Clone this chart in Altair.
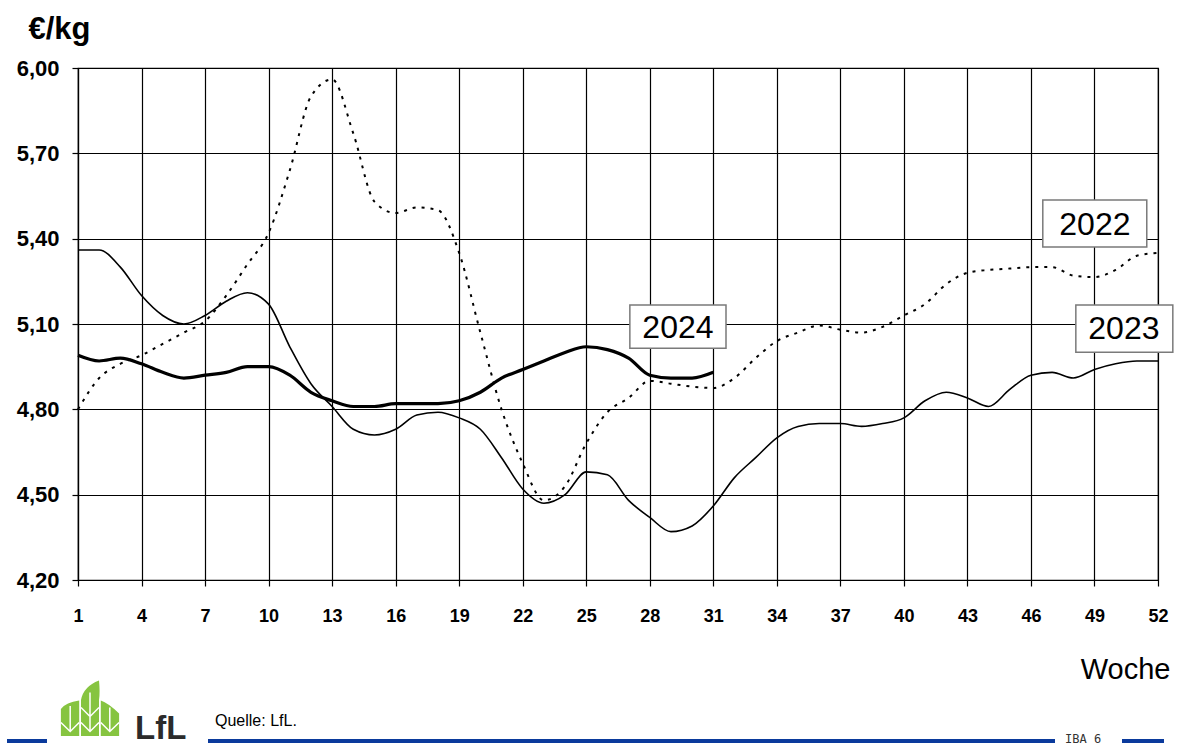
import altair as alt
import pandas as pd

# Weekly prices in EUR/kg
weeks = list(range(1, 53))
price_2022 = [4.80, 4.91, 4.96, 4.99, 5.03, 5.07, 5.11, 5.20, 5.31, 5.42,
              5.64, 5.90, 5.96, 5.77, 5.53, 5.49, 5.51, 5.50, 5.35, 5.07,
              4.80, 4.61, 4.48, 4.53, 4.68, 4.79, 4.84, 4.90, 4.89, 4.88,
              4.875, 4.91, 4.98, 5.04, 5.07, 5.095, 5.08, 5.07, 5.09, 5.13,
              5.17, 5.24, 5.28, 5.29, 5.295, 5.30, 5.30, 5.27, 5.265, 5.29,
              5.34, 5.35]
price_2023 = [5.36, 5.36, 5.30, 5.20, 5.13, 5.10, 5.13, 5.18, 5.21, 5.17,
              5.02, 4.89, 4.81, 4.73, 4.71, 4.73, 4.78, 4.79, 4.77, 4.73,
              4.63, 4.52, 4.47, 4.50, 4.58, 4.57, 4.48, 4.42, 4.37, 4.39,
              4.46, 4.56, 4.63, 4.70, 4.74, 4.75, 4.75, 4.74, 4.75, 4.77,
              4.83, 4.86, 4.84, 4.81, 4.87, 4.92, 4.93, 4.91, 4.94, 4.96,
              4.97, 4.97]
price_2024 = [4.99, 4.97, 4.98, 4.96, 4.93, 4.91, 4.92, 4.93, 4.95, 4.95,
              4.92, 4.86, 4.83, 4.81, 4.81, 4.82, 4.82, 4.82, 4.83, 4.86,
              4.91, 4.94, 4.97, 5.00, 5.02, 5.01, 4.98, 4.92, 4.91, 4.91,
              4.93]

tick_weeks = list(range(1, 53, 3))
tick_prices = [4.20, 4.50, 4.80, 5.10, 5.40, 5.70, 6.00]

# Year labels with their framing boxes (week / price coordinates)
label_text = ["2024", "2022", "2023"]
label_week = [29.33, 49.02, 50.39]
label_price = [5.086, 5.448, 5.082]
box_week_lo = [27.06, 46.56, 48.12]
box_week_hi = [31.60, 51.47, 52.70]
box_price_lo = [5.015, 5.371, 5.001]
box_price_hi = [5.167, 5.536, 5.167]

FONT = "Liberation Sans"

df22 = pd.DataFrame({"week": weeks, "price": price_2022})
df23 = pd.DataFrame({"week": weeks, "price": price_2023})
df24 = pd.DataFrame({"week": weeks[:len(price_2024)], "price": price_2024})
labels = pd.DataFrame({
    "text": label_text, "week": label_week, "price": label_price,
    "w0": box_week_lo, "w1": box_week_hi, "p0": box_price_lo, "p1": box_price_hi,
})

x_scale = alt.Scale(domain=[1, 52], nice=False, zero=False)
y_scale = alt.Scale(domain=[4.2, 6.0], nice=False, zero=False)

x_axis = alt.Axis(
    values=tick_weeks, grid=True, labelFlush=False,
    labelFont=FONT, labelFontWeight="bold", labelFontSize=18, labelColor="black",
    tickSize=6, labelPadding=21,
    title="Woche", titleFont=FONT, titleFontWeight="normal", titleFontSize=29,
    titleColor="black", titleAlign="right", titleX=1092, titleY=98,
    titleBaseline="alphabetic",
)
y_axis = alt.Axis(
    values=tick_prices, grid=True, labelFlush=False,
    labelExpr="replace(format(datum.value, '.2f'), '.', ',')",
    labelFont=FONT, labelFontWeight="bold", labelFontSize=22, labelColor="black",
    tickSize=6, labelPadding=13,
    title="€/kg", titleFont=FONT, titleFontWeight="bold", titleFontSize=31,
    titleColor="black", titleAngle=0, titleAlign="left", titleX=-50, titleY=-30,
    titleBaseline="alphabetic",
)

X = alt.X("week:Q", scale=x_scale, axis=x_axis)
Y = alt.Y("price:Q", scale=y_scale, axis=y_axis)

line22 = alt.Chart(df22).mark_line(
    color="black", strokeWidth=2, strokeDash=[3, 6], interpolate="monotone"
).encode(x=X, y=Y)
line23 = alt.Chart(df23).mark_line(
    color="black", strokeWidth=1.6, interpolate="monotone"
).encode(x="week:Q", y="price:Q")
line24 = alt.Chart(df24).mark_line(
    color="black", strokeWidth=3.2, interpolate="monotone"
).encode(x="week:Q", y="price:Q")

boxes = alt.Chart(labels).mark_rect(
    fill="white", stroke="#7a7a7a", strokeWidth=1.5
).encode(x="w0:Q", x2="w1", y="p0:Q", y2="p1")
box_text = alt.Chart(labels).mark_text(
    font=FONT, fontSize=32, color="black", align="center", baseline="middle"
).encode(x="week:Q", y="price:Q", text="text:N")

# Footer: blue rule segments, logo and source note
one = pd.DataFrame({"k": [0]})
BLUE = "#0a3a9c"
footer_rules = [
    alt.Chart(one).mark_rule(color=BLUE, strokeWidth=4).encode(
        x=alt.value(x0), x2=alt.value(x1), y=alt.value(673))
    for x0, x1 in [(-71, -31), (130, 977), (1044, 1086)]
]
leaf_path = ("M-0.97,0.9 L-0.97,0.0 Q-0.8,-0.22 -0.36,-0.28 L-0.36,0.9 Z "
             "M-0.3,0.9 L-0.3,-0.3 Q-0.22,-0.75 0.3,-0.95 Q0.34,-0.55 0.3,-0.3 L0.3,0.9 Z "
             "M0.36,0.9 L0.36,-0.28 Q0.6,-0.2 0.97,0.15 L0.97,0.9 Z")
vein_path = ("M-0.97,0.45 L-0.66,0.75 L-0.36,0.45 M-0.66,0.75 L-0.66,-0.1 "
             "M-0.3,0.45 L0,0.75 L0.3,0.45 M-0.3,-0.05 L0,0.25 L0.3,-0.05 M0,0.75 L0,-0.55 "
             "M0.36,0.45 L0.66,0.75 L0.97,0.45 M0.66,0.75 L0.66,-0.05")
logo = alt.Chart(one).mark_point(
    shape=leaf_path, filled=True, color="#86c440", opacity=1, size=3600, strokeWidth=0,
).encode(x=alt.value(12), y=alt.value(641))
logo_veins = alt.Chart(one).mark_point(
    shape=vein_path, filled=False, color="white", opacity=1, size=3600, strokeWidth=1.5,
).encode(x=alt.value(12), y=alt.value(641))
logo_text = alt.Chart(one).mark_text(
    text="LfL", font=FONT, fontWeight="bold", fontSize=33, color="#2b2b2b",
    align="left", baseline="alphabetic",
).encode(x=alt.value(57), y=alt.value(671))
source = alt.Chart(one).mark_text(
    text="Quelle: LfL.", font=FONT, fontSize=16, color="black",
    align="left", baseline="middle",
).encode(x=alt.value(137), y=alt.value(653))
page = alt.Chart(one).mark_text(
    text="IBA 6", font="DejaVu Sans Mono", fontSize=12, color="#333333",
    align="left", baseline="middle",
).encode(x=alt.value(987), y=alt.value(671))

chart = alt.layer(
    line22, line23, line24, boxes, box_text, *footer_rules,
    logo, logo_veins, logo_text, source, page
).properties(
    width=1080, height=512,
    padding={"left": 78, "top": 68, "right": 22, "bottom": 167},
    autosize=alt.AutoSizeParams(type="none"),
    background="white",
).configure_axis(
    domainColor="black", domainWidth=1.2, tickColor="black", tickWidth=1.2,
    gridColor="black", gridWidth=1.2, gridOpacity=1,
).configure_view(stroke="black", strokeWidth=1.2)

chart.save("out.html", embed_options={"renderer": "svg", "actions": False})
